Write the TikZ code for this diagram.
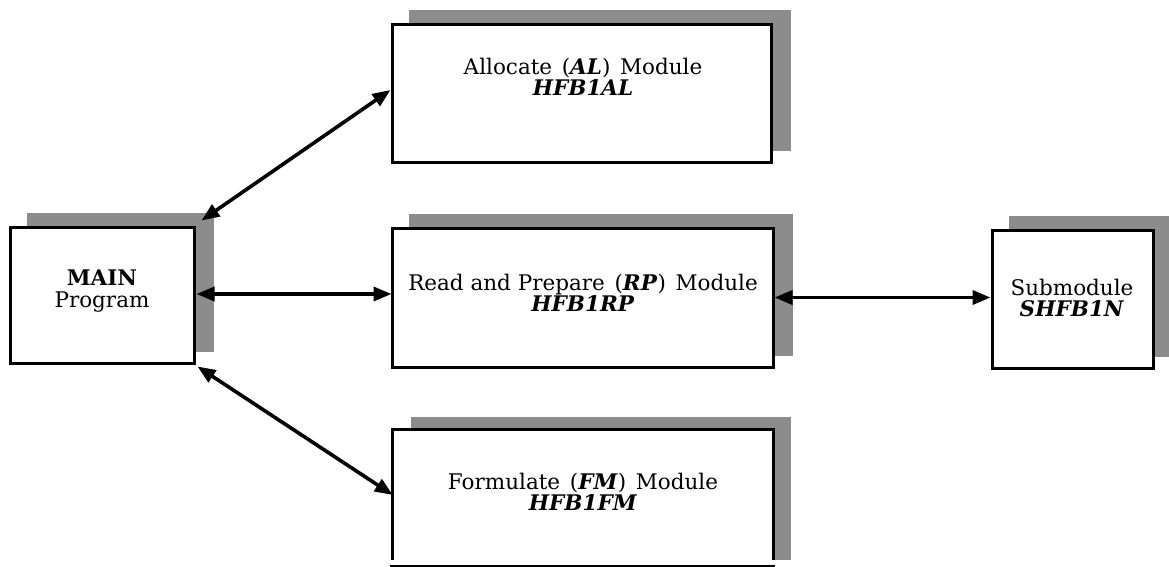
\documentclass[tikz,border=0pt]{standalone}
\usepackage{fontspec}
\setmainfont{DejaVu Serif}
\usetikzlibrary{arrows.meta}
\pgfdeclarelayer{bg}
\pgfsetlayers{bg,main}
\newcommand{\bi}[1]{\textbf{\textit{#1}}}
\newcommand{\gap}{\hspace{0.45em}}
\begin{document}
\begin{tikzpicture}[x=1pt,y=-1pt,
  modbox/.style={draw, fill=white, line width=3pt, inner sep=0pt},
  lbl/.style={align=center, font=\fontsize{21.5}{21.5}\selectfont, inner sep=0pt},
  link/.style={line width=3.6pt,
    {Triangle[length=18pt,width=14pt]}-{Triangle[length=18pt,width=14pt]}},
  shadowfill/.style={fill=black!45},
]
\useasboundingbox (0,0) rectangle (1169,567);

% module boxes
\node[modbox, minimum width=379, minimum height=137] (al)   at (581.5,93.5) {};
\node[modbox, minimum width=184, minimum height=136] (main) at (102,295) {};
\node[modbox, minimum width=381, minimum height=139] (rp)   at (582.5,297.5) {};
\node[modbox, minimum width=161, minimum height=138] (sub)  at (1072.5,299) {};
\node[fill=white, inner sep=0pt, minimum width=380, minimum height=130] (fm) at (583,495) {};
\draw[line width=3pt] (fm.south west) -- (fm.north west) -- (fm.north east) -- (fm.south east);

% rule under the formulate box
\coordinate (rule-l) at (390,566);
\coordinate (rule-r) at (775,566);
\draw[line width=2.2pt] (rule-l) -- (rule-r);

% drop shadows
\begin{pgfonlayer}{bg}
  \foreach \b in {al,main,rp,sub}
    \fill[shadowfill] ([shift={(18,-13)}]\b.south west) rectangle ([shift={(18,-13)}]\b.north east);
  \fill[shadowfill] ([shift={(18,-13)}]fm.north west) rectangle ([shift={(18,0)}]fm.south east);
\end{pgfonlayer}

% labels
\node[lbl] (al-t)   at (583,77)   {Allocate\gap(\bi{AL})\gap Module\\\bi{HFB1AL}};
\node[lbl] (main-t) at (102,291)  {\textbf{MAIN}\\Program};
\node[lbl] (rp-t)   at (583,293)  {Read and Prepare\gap(\bi{RP})\gap Module\\\bi{HFB1RP}};
\node[lbl] (sub-t)  at (1072,298) {Submodule\\\bi{SHFB1N}};
\node[lbl] (fm-t)   at (583,492)  {Formulate\gap(\bi{FM})\gap Module\\\bi{HFB1FM}};

% connectors
\draw[link] ([shift={(6,-5)}]main.north east) -- ([shift={(0,-3.5)}]al.west);
\draw[link] ([shift={(1,-1)}]main.east) -- ([shift={(1,-1)}]main.east -| rp.west);
\draw[link] (rp.east) -- (sub.west |- rp.east);
\draw[link] ([shift={(2,2)}]main.south east) -- (fm.west);
\end{tikzpicture}
\end{document}
